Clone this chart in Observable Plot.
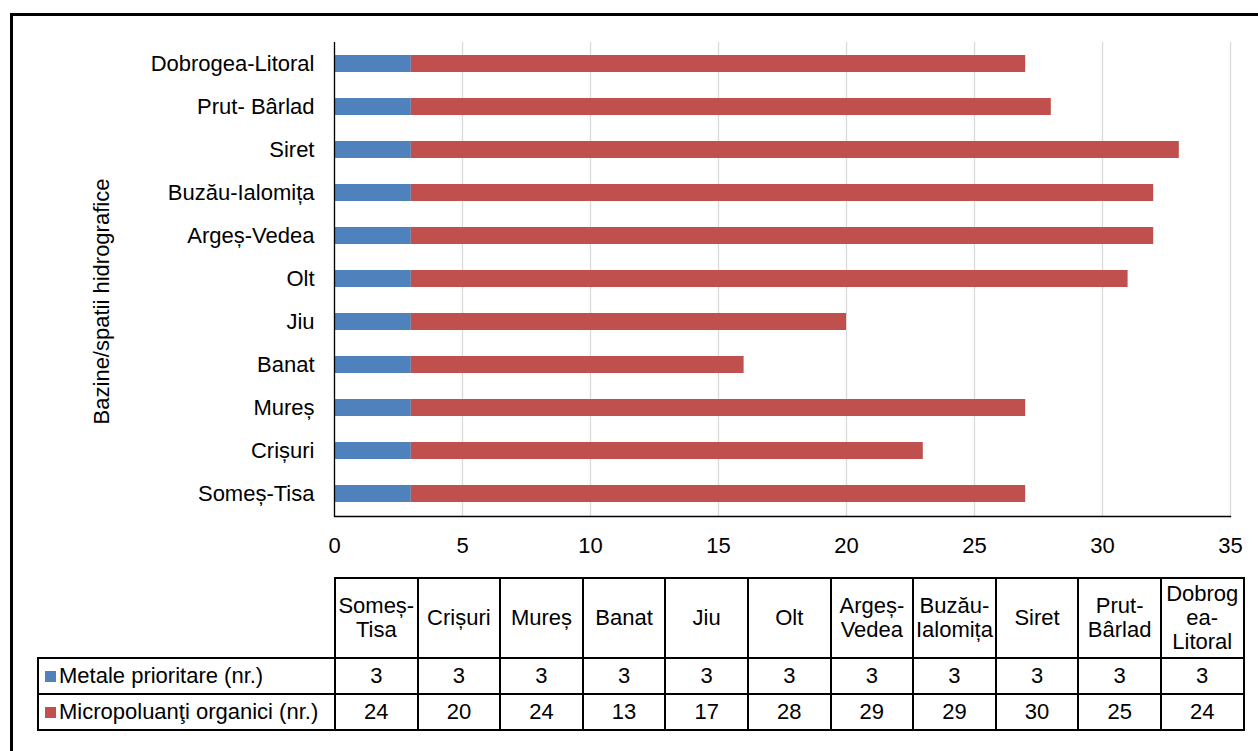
<!DOCTYPE html>
<html>
<head>
<meta charset="utf-8">
<script src="https://cdn.jsdelivr.net/npm/d3@7"></script>
<script src="https://cdn.jsdelivr.net/npm/@observablehq/plot@0.6"></script>
<style>
  html, body { margin: 0; padding: 0; background: #fff; }
  body { width: 1258px; height: 751px; position: relative; overflow: hidden; font-family: "Liberation Sans", Arial, sans-serif; }
  #frame { position: absolute; left: 10px; top: 13px; width: 1400px; height: 900px; border-left: 3px solid #000; border-top: 3px solid #000; box-sizing: border-box; }
  #chart { position: absolute; left: 0; top: 0; }
  #tbl { position: absolute; left: 37px; top: 577px; border-collapse: collapse; table-layout: fixed; font-size: 22px; color: #000; }
  #tbl td { border: 2px solid #000; padding: 0; text-align: center; vertical-align: middle; white-space: pre-line; line-height: 24px; overflow: visible; }
  #tbl td.empty { border: none; }
  #tbl td.leg { text-align: left; padding-left: 6px; white-space: nowrap; }
  #tbl .sw { display: inline-block; width: 11px; height: 11px; margin-right: 3px; vertical-align: 1px; }
</style>
</head>
<body>
<div id="frame"></div>
<div id="chart"></div>
<table id="tbl"></table>
<script>
// ---- data ----
const basins = ["Someș-Tisa", "Crișuri", "Mureș", "Banat", "Jiu", "Olt", "Argeș-Vedea", "Buzău-Ialomița", "Siret", "Prut- Bârlad", "Dobrogea-Litoral"];
const tableHeaders = ["Someș-\nTisa", "Crișuri", "Mureș", "Banat", "Jiu", "Olt", "Argeș-\nVedea", "Buzău-\nIalomița", "Siret", "Prut-\nBârlad", "Dobrog\nea-\nLitoral"];
const metale = [3, 3, 3, 3, 3, 3, 3, 3, 3, 3, 3];
const micro = [24, 20, 24, 13, 17, 28, 29, 29, 30, 25, 24];
const seriesNames = ["Metale prioritare (nr.)", "Micropoluanţi organici (nr.)"];
const seriesColors = ["#4F81BD", "#C0504D"];
const xTicks = [0, 5, 10, 15, 20, 25, 30, 35];
const yTitle = "Bazine/spatii hidrografice";

// ---- table for Plot ----
const seriesValues = [metale, micro];
const rows = [];
basins.forEach((b, i) => {
  seriesNames.forEach((s, j) => rows.push({basin: b, series: s, value: seriesValues[j][i]}));
});

const chart = Plot.plot({
  width: 1258,
  height: 565,
  marginLeft: 334,
  marginRight: 28,
  marginTop: 42,
  marginBottom: 49,
  style: {fontFamily: "'Liberation Sans', Arial, sans-serif", fontSize: "22px", color: "#000", background: "transparent"},
  x: {domain: [0, 35], ticks: xTicks, label: null},
  y: {domain: basins.slice().reverse(), paddingInner: 0.6, paddingOuter: 0.3, label: null},
  color: {domain: seriesNames, range: seriesColors},
  marks: [
    Plot.gridX(xTicks, {stroke: "#d9d9d9", strokeOpacity: 1, strokeWidth: 1.3}),
    Plot.barX(rows, Plot.stackX({x: "value", y: "basin", fill: "series", order: seriesNames})),
    Plot.ruleX([0], {stroke: "#000", strokeWidth: 1.3}),
    Plot.frame({anchor: "bottom", stroke: "#000", strokeWidth: 1.3}),
    Plot.axisX(xTicks, {tickSize: 0, tickPadding: 21, label: null, fontSize: 22}),
    Plot.axisY({tickSize: 0, tickPadding: 20, label: null, fontSize: 22}),
    Plot.text([yTitle], {frameAnchor: "left", textAnchor: "middle", lineAnchor: "middle", dx: -233, dy: 22, rotate: -90, fontSize: 22, fill: "#000"})
  ]
});
document.getElementById("chart").appendChild(chart);

// ---- data table below the chart ----
const tbl = document.getElementById("tbl");
const colg = document.createElement("colgroup");
const c0 = document.createElement("col"); c0.style.width = "297px"; colg.appendChild(c0);
tableHeaders.forEach(() => { const c = document.createElement("col"); c.style.width = "82.6px"; colg.appendChild(c); });
tbl.appendChild(colg);

const hr = document.createElement("tr");
hr.style.height = "80px";
const e = document.createElement("td"); e.className = "empty"; hr.appendChild(e);
tableHeaders.forEach(h => { const td = document.createElement("td"); td.textContent = h; hr.appendChild(td); });
tbl.appendChild(hr);

seriesNames.forEach((s, j) => {
  const tr = document.createElement("tr");
  tr.style.height = "36px";
  const lg = document.createElement("td"); lg.className = "leg";
  const sw = document.createElement("span"); sw.className = "sw"; sw.style.background = seriesColors[j];
  lg.appendChild(sw); lg.appendChild(document.createTextNode(s));
  tr.appendChild(lg);
  seriesValues[j].forEach(v => { const td = document.createElement("td"); td.textContent = v; tr.appendChild(td); });
  tbl.appendChild(tr);
});
</script>
</body>
</html>
